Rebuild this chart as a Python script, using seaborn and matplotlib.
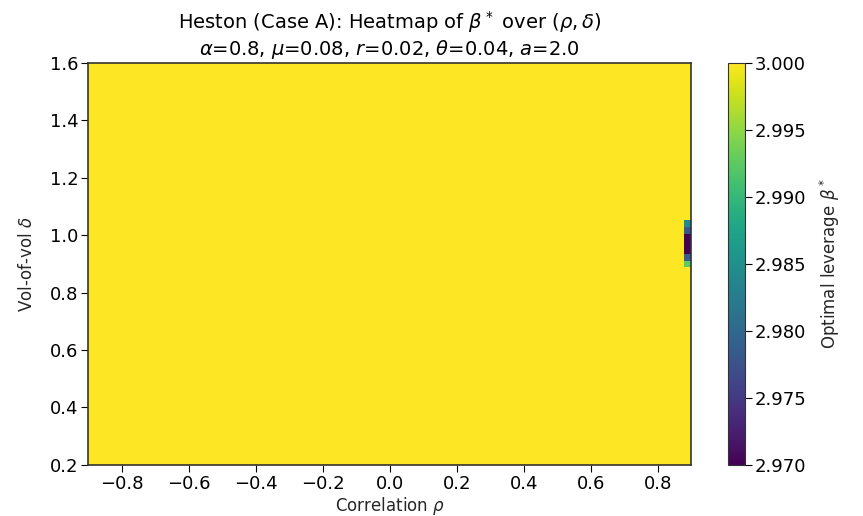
import numpy as np
import matplotlib
matplotlib.use("Agg")
import matplotlib.pyplot as plt
import seaborn as sns

# grid of correlation (rho) and vol-of-vol (delta)
rho = np.linspace(-0.9, 0.9, 41)
delta = np.linspace(0.2, 1.6, 61)

# optimal leverage: 3.0 everywhere except a small dip in the last rho column
beta_base = 3.0
dip_delta = [0.9000, 0.9233, 0.9467, 0.9700, 0.9933, 1.0167, 1.0400]
dip_values = [2.9925, 2.9785, 2.9700, 2.9700, 2.9700, 2.9780, 2.9840]

Z = np.full((len(delta), len(rho)), beta_base)
for d, v in zip(dip_delta, dip_values):
    i = int(np.argmin(np.abs(delta - d)))
    Z[i, -1] = v

xticks = [-0.8, -0.6, -0.4, -0.2, 0.0, 0.2, 0.4, 0.6, 0.8]
yticks = [0.2, 0.4, 0.6, 0.8, 1.0, 1.2, 1.4, 1.6]
cticks = [2.970, 2.975, 2.980, 2.985, 2.990, 2.995, 3.000]

sns.set_style("ticks")
plt.rcParams['font.family'] = ['DejaVu Sans']
plt.rcParams['mathtext.fontset'] = 'dejavusans'

cmap = sns.color_palette("viridis", as_cmap=True)

fig = plt.figure(figsize=(8.63, 5.16), dpi=100)
ax = fig.add_axes([0.102, 0.099, 0.699, 0.779])
cax = fig.add_axes([0.8436, 0.099, 0.0197, 0.779])

mesh = ax.pcolormesh(rho, delta, Z, shading="nearest", cmap=cmap,
                     vmin=2.970, vmax=3.000)
ax.set_xlim(-0.9, 0.9)
ax.set_ylim(0.2, 1.6)
ax.set_xticks(xticks)
ax.set_yticks(yticks)
ax.set_xticklabels([f"{t:.1f}".replace("-", "\u2212") for t in xticks])
ax.set_yticklabels([f"{t:.1f}" for t in yticks])
ax.tick_params(labelsize=13, colors="black", length=5, pad=2)
for s in ax.spines.values():
    s.set_color("#333333")
    s.set_linewidth(1.2)

ax.set_xlabel(r"Correlation $\rho$", fontsize=12, labelpad=2)
ax.set_ylabel(r"Vol-of-vol $\delta$", fontsize=12, labelpad=10)
ax.set_title("Heston (Case A): Heatmap of $\\beta^*$ over $(\\rho,\\delta)$\n"
             "$\\alpha$=0.8, $\\mu$=0.08, $r$=0.02, $\\theta$=0.04, $a$=2.0",
             fontsize=14, pad=6, linespacing=1.15, color="black")

cb = fig.colorbar(mesh, cax=cax)
cb.set_ticks(cticks)
cb.set_ticklabels([f"{t:.3f}" for t in cticks])
cb.ax.tick_params(labelsize=13, length=5, pad=2, colors="black")
cb.set_label(r"Optimal leverage $\beta^*$", fontsize=12, labelpad=8)
cb.outline.set_edgecolor("#333333")

fig.savefig("out.png", dpi=100)
